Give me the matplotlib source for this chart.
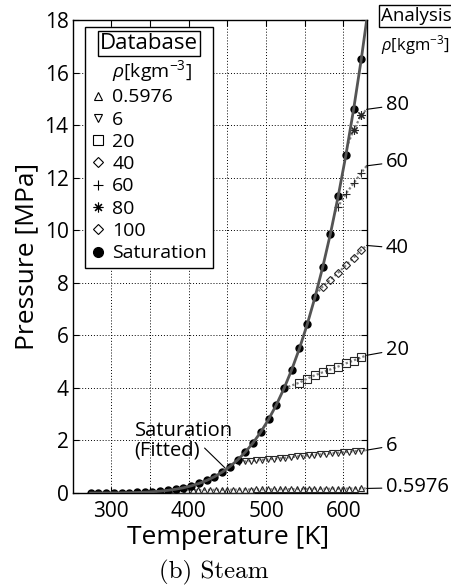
import matplotlib
matplotlib.use('Agg')
import matplotlib.pyplot as plt
import numpy as np
from matplotlib import rc
from matplotlib.lines import Line2D

# saturation line of water, database points every 10 degC
sat_T_C = [0, 10, 20, 30, 40, 50, 60, 70, 80, 90, 100, 110, 120, 130, 140, 150, 160, 170,
           180, 190, 200, 210, 220, 230, 240, 250, 260, 270, 280, 290, 300, 310, 320, 330, 340, 350]
sat_P = [0.000611, 0.001228, 0.002339, 0.004247, 0.007384, 0.012352, 0.019946, 0.031201,
         0.047414, 0.070182, 0.10142, 0.14338, 0.19867, 0.27028, 0.36154, 0.47616, 0.61823,
         0.79219, 1.0028, 1.2552, 1.5549, 1.9077, 2.3196, 2.7971, 3.3469, 3.9762, 4.6923,
         5.5030, 6.4166, 7.4418, 8.5879, 9.8651, 11.284, 12.858, 14.601, 16.529]
# fitted saturation curve (one more point so it runs off the top)
fit_T_C = sat_T_C + [360]
fit_P = sat_P + [18.666]

# isochores: database points (T [K], P [MPa])
T_0p5976 = [375, 382.5, 390, 397.5, 405, 412.5, 420, 427.5, 435, 442.5, 450, 457.5, 465, 472.5,
            480, 487.5, 495, 502.5, 510, 517.5, 525, 532.5, 540, 547.5, 555, 562.5, 570, 577.5,
            585, 592.5, 600, 607.5, 615, 622.5]
P_0p5976 = [0.102, 0.104, 0.107, 0.109, 0.111, 0.113, 0.115, 0.117, 0.119, 0.121, 0.123, 0.125,
            0.128, 0.130, 0.132, 0.134, 0.136, 0.138, 0.140, 0.142, 0.144, 0.146, 0.148, 0.150,
            0.153, 0.155, 0.157, 0.159, 0.161, 0.163, 0.165, 0.167, 0.169, 0.171]
T_6 = [465, 472.5, 480, 487.5, 495, 502.5, 510, 517.5, 525, 532.5, 540, 547.5, 555, 562.5,
       570, 577.5, 585, 592.5, 600, 607.5, 615, 622.5]
P_6 = [1.18, 1.20, 1.22, 1.24, 1.26, 1.28, 1.30, 1.32, 1.34, 1.36, 1.39, 1.41, 1.43, 1.45,
       1.47, 1.49, 1.51, 1.53, 1.55, 1.57, 1.59, 1.61]
T_20 = [543, 553, 563, 573, 583, 593, 603, 613, 623]
P_20 = [4.20, 4.35, 4.48, 4.59, 4.70, 4.81, 4.93, 5.04, 5.16]
T_40 = [573, 583, 593, 603, 613, 623]
P_40 = [7.85, 8.12, 8.38, 8.66, 8.95, 9.25]
T_60 = [593, 603, 613, 623]
P_60 = [10.90, 11.38, 11.78, 12.18]
T_80 = [613, 623]
P_80 = [13.80, 14.38]
T_100 = []
P_100 = []

# analysis curves: start on the saturation line, end at the right edge
an_start = {'0.5976': (373.15, 0.1014), '6': (460, 1.17), '20': (523.15, 3.98),
            '40': (564, 7.55), '60': (589, 10.7), '80': (606, 13.3)}
an_end = {'0.5976': (630, 0.173), '6': (630, 1.63), '20': (630, 5.24),
          '40': (630, 9.42), '60': (630, 12.45), '80': (630, 14.6)}

rho_labels = ['0.5976', '6', '20', '40', '60', '80', '100']
db_T = [T_0p5976, T_6, T_20, T_40, T_60, T_80, T_100]
db_P = [P_0p5976, P_6, P_20, P_40, P_60, P_80, P_100]
markers = ['^', 'v', 's', 'D', '+', (8, 2, 0), 'D']
msizes = [5, 5, 6, 4.5, 6, 6, 4.5]

rc('font', family='Open Sans')
rc('mathtext', fontset='custom', rm='Open Sans', it='Open Sans:italic', bf='Open Sans:bold')

fig = plt.figure(figsize=(4.52, 5.88), dpi=100)
ax = fig.add_axes([0.1608, 0.1616, 0.6504, 0.8044])

for lab, T, P in zip(rho_labels, db_T, db_P):
    if lab in an_start:
        Ta = [an_start[lab][0]] + T + [an_end[lab][0]]
        Pa = [an_start[lab][1]] + P + [an_end[lab][1]]
        ax.plot(Ta, Pa, linestyle=(0, (1, 1)), color='0.5', lw=1.6, zorder=2)

for lab, T, P, m, s in zip(rho_labels, db_T, db_P, markers, msizes):
    ax.plot(T, P, linestyle='none', marker=m, ms=s, mfc='none', mec='0.15', mew=0.8, zorder=3)

ax.plot(np.array(sat_T_C) + 273.15, sat_P, 'o', color='black', ms=5, zorder=4)
ax.plot(np.array(fit_T_C) + 273.15, fit_P, '-', color='0.33', lw=2, zorder=5)

ax.set_xlim(250, 630)
ax.set_ylim(0, 18)
ax.set_xticks([300, 350, 400, 450, 500, 550, 600])
ax.set_xticklabels(['300', '', '400', '', '500', '', '600'])
ax.set_yticks(np.arange(0, 19, 2))
ax.tick_params(direction='in', top=True, right=True, length=4, width=0.8, labelsize=15)
ax.tick_params(axis='x', pad=6)
ax.tick_params(axis='y', pad=3)
ax.grid(True, linestyle=(0, (1, 2)), color='black', lw=0.7)
for sp in ax.spines.values():
    sp.set_linewidth(1)

ax.set_xlabel('Temperature [K]', fontsize=19)
ax.xaxis.set_label_coords((228 - 72.7) / 294, -0.0687)
ax.set_ylabel('Pressure [MPa]', fontsize=19, labelpad=4)

# legend
handles = [Line2D([], [], linestyle='none')]
labels = [r'$\rho$[kgm$^{-3}$]']
for lab, m, s in zip(rho_labels, markers, msizes):
    handles.append(Line2D([], [], linestyle='none', marker=m, ms=s + 1, mfc='none', mec='black', mew=0.8))
    labels.append(lab)
handles.append(Line2D([], [], linestyle='none', marker='o', ms=7, color='black'))
labels.append('Saturation')
leg = ax.legend(handles, labels, loc='upper left', bbox_to_anchor=(0.0418, 0.985),
                borderaxespad=0, fontsize=14, title='Database', title_fontsize=16,
                handlelength=0.7, handletextpad=0.4, borderpad=0.3, labelspacing=0.22,
                fancybox=False, framealpha=1, edgecolor='black')
leg.get_frame().set_linewidth(1)
leg.get_title().set_bbox(dict(boxstyle='square,pad=0.1', fc='white', ec='black', lw=1))

# analysis labels on the right
right_text = ['80', '60', '40', '20', '6', '0.5976']
right_y = [14.76, 12.6, 9.32, 5.45, 1.79, 0.21]
for lab, y in zip(right_text, right_y):
    ax.annotate(lab, xy=an_end[lab], xytext=(655, y), textcoords='data', ha='left', va='center',
                fontsize=14.5, annotation_clip=False,
                arrowprops=dict(arrowstyle='-', color='black', lw=0.8, shrinkA=1, shrinkB=0))
fig.text(381 / 452, 1 - 16 / 588, 'Analysis', fontsize=13.5, ha='left', va='center',
         bbox=dict(boxstyle='square,pad=0.1', fc='white', ec='black', lw=1))
fig.text(381 / 452, 1 - 45 / 588, r'$\rho$[kgm$^{-3}$]', fontsize=12, ha='left', va='center')

# saturation (fitted) callout
ax.text(330, 2.75, 'Saturation\n(Fitted)', fontsize=14.5, ha='left', va='top', linespacing=1.0)
ax.annotate('', xy=(447, 0.95), xytext=(420.5, 1.71),
            arrowprops=dict(arrowstyle='-', color='black', lw=0.8, shrinkA=0, shrinkB=0))

fig.text(214 / 452, 1 - 572 / 588, '(b) Steam', family='cmr10', fontsize=18, ha='center', va='center')

fig.savefig('out.png', dpi=100)
